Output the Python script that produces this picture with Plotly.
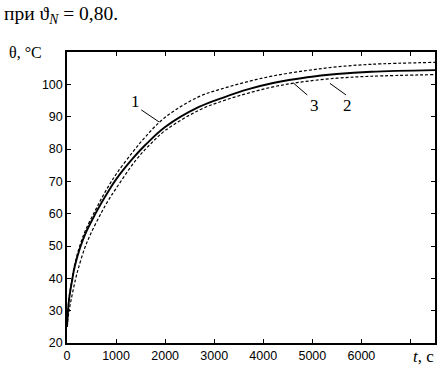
import plotly.graph_objects as go

# --- data ---
t1 = [0, 40, 100, 160, 270, 380, 580, 700, 850, 1000, 1337, 1600, 2000, 2689, 3200, 3700, 4200, 4900, 5500, 6200, 7500]
theta1 = [25.3, 33.6, 39.6, 44.5, 50.5, 55, 61.1, 64.6, 68.6, 72.2, 79, 83.8, 89.8, 96.2, 98.8, 100.9, 102.6, 104.3, 105.4, 106.2, 106.8]

t2 = [0, 40, 100, 160, 270, 380, 580, 700, 850, 1000, 1337, 1600, 2000, 2689, 3200, 3700, 4200, 4900, 5500, 6200, 7500]
theta2 = [25, 33.2, 39, 43.8, 49.6, 54, 60, 63.3, 67.1, 70.6, 77, 81.3, 86.8, 93, 96, 98.5, 100.4, 102.2, 103.2, 103.9, 104.4]

t3 = [0, 40, 90, 170, 230, 360, 490, 700, 830, 1000, 1406, 1700, 2000, 2689, 3200, 3700, 4200, 4715, 5500, 6200, 7500]
theta3 = [25, 29.8, 33.8, 39.5, 43, 49.3, 54, 60.3, 63.8, 67.8, 76.6, 81.5, 85.7, 92, 95, 97.3, 99.2, 100.6, 101.9, 102.5, 103.0]

x_ticks = [0, 1000, 2000, 3000, 4000, 5000, 6000]
x_minor_ticks = [7000]
y_ticks = [20, 30, 40, 50, 60, 70, 80, 90, 100]

# curve labels: text, label position (t, theta), leader start, leader end
curve_labels = ["1", "3", "2"]
label_t = [1402, 5040, 5708]
label_theta = [94.7, 93.5, 93.5]
leader_from_t = [1514, 4897, 5688]
leader_from_theta = [92.1, 96.7, 96.7]
leader_to_t = [1878, 4614, 5358]
leader_to_theta = [88.35, 100.4, 100.3]

SERIF = "Liberation Serif, Times New Roman, serif"
SANS = "Liberation Sans, Arial, sans-serif"

fig = go.Figure()
fig.add_trace(go.Scatter(x=t1, y=theta1, mode="lines", line=dict(color="black", width=1.2, dash="3px,2px", shape="spline")))
fig.add_trace(go.Scatter(x=t2, y=theta2, mode="lines", line=dict(color="black", width=1.9, shape="spline")))
fig.add_trace(go.Scatter(x=t3, y=theta3, mode="lines", line=dict(color="black", width=1.2, dash="3px,2px", shape="spline")))

for txt, lt, lv, ft, fv, tt, tv in zip(curve_labels, label_t, label_theta, leader_from_t, leader_from_theta, leader_to_t, leader_to_theta):
    fig.add_annotation(x=lt, y=lv, xref="x", yref="y", text=txt, showarrow=False,
                       font=dict(family=SERIF, size=17, color="black"))
    fig.add_shape(type="line", xref="x", yref="y", x0=ft, y0=fv, x1=tt, y1=tv,
                  line=dict(color="black", width=1))

fig.add_annotation(xref="paper", yref="paper", x=-0.162, y=1.0, xanchor="left", yanchor="middle",
                   text="θ, °C", showarrow=False, font=dict(family=SERIF, size=16, color="black"))
fig.add_annotation(xref="paper", yref="paper", x=0.935, y=-0.048, xanchor="left", yanchor="middle",
                   text="<i>t</i>, с", showarrow=False, font=dict(family=SERIF, size=17, color="black"))
fig.add_annotation(xref="paper", yref="paper", x=-0.177, y=1.176, xanchor="left", yanchor="top",
                   text="при ϑ<sub><i>N</i></sub> = 0,80.", showarrow=False, font=dict(family=SERIF, size=19.5, color="black"))

fig.update_layout(
    width=445, height=371,
    margin=dict(l=67, r=8, t=52, b=28),
    paper_bgcolor="white", plot_bgcolor="white",
    showlegend=False,
)
fig.update_xaxes(range=[0, 7500], tickvals=x_ticks,
                 ticks="inside", ticklen=4, tickwidth=1, tickcolor="black",
                 minor=dict(tickmode="array", tickvals=x_minor_ticks, ticks="inside", ticklen=4, tickwidth=1, tickcolor="black"),
                 showline=True, linecolor="black", linewidth=1.5, mirror="ticks",
                 showgrid=False, zeroline=False,
                 tickfont=dict(family=SANS, size=12.5, color="black"))
fig.update_yaxes(range=[20, 110], tickvals=y_ticks,
                 ticks="inside", ticklen=4, tickwidth=1, tickcolor="black",
                 showline=True, linecolor="black", linewidth=1.5, mirror="ticks",
                 showgrid=False, zeroline=False,
                 tickfont=dict(family=SANS, size=12.5, color="black"))

fig.write_html("out.html", config={"displayModeBar": False},
               post_script="document.body.style.margin='0px';")
